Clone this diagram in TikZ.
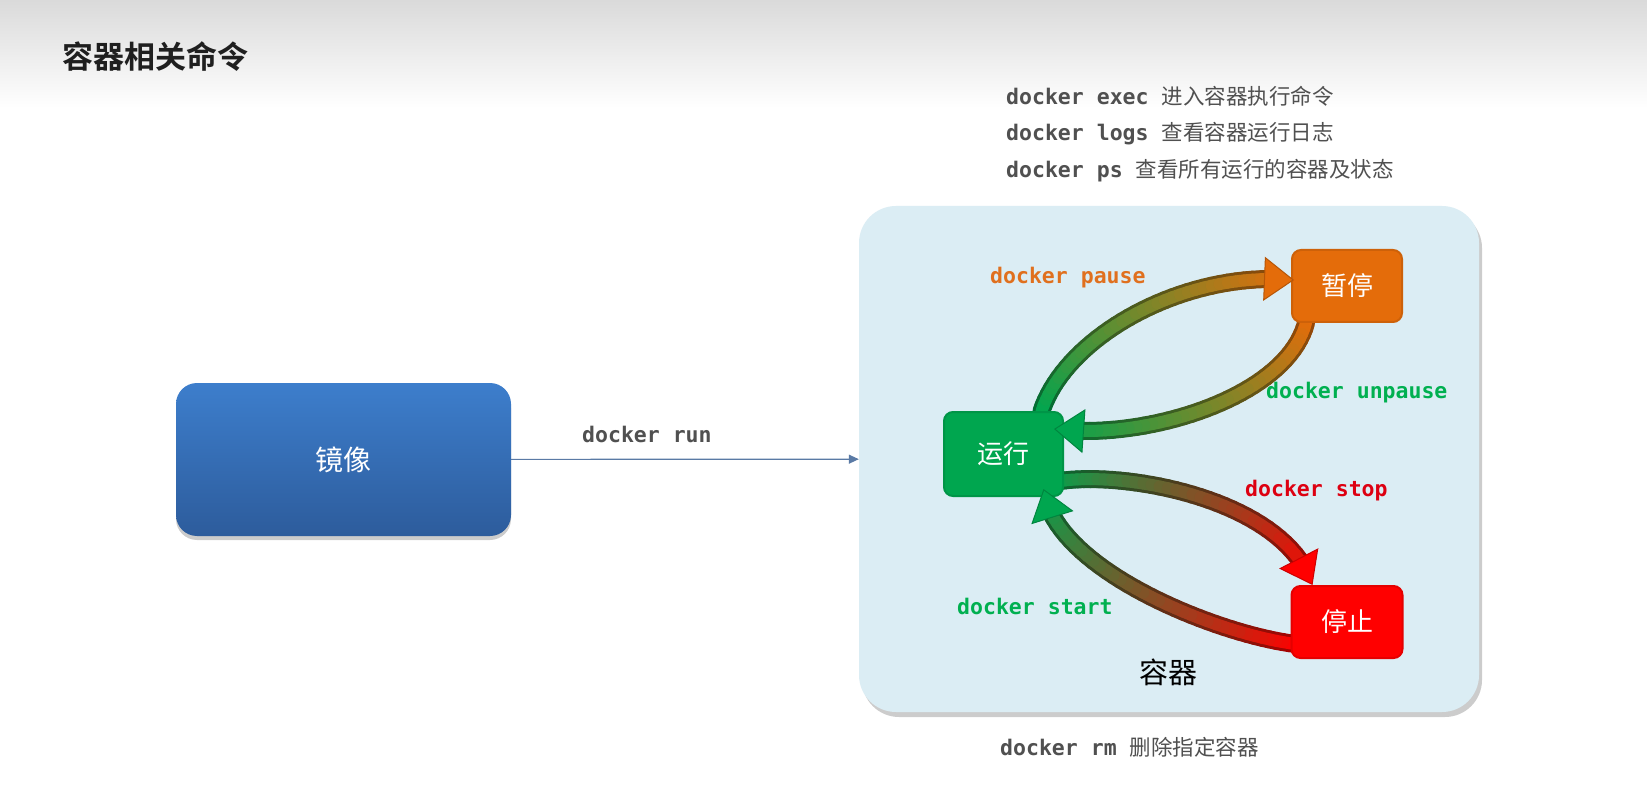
\documentclass[tikz,border=0pt]{standalone}
\usepackage{fontspec}
\setmainfont{Noto Sans CJK SC}[BoldFont={Noto Sans CJK SC Bold}]
\setmonofont{DejaVu Sans Mono}
\usetikzlibrary{arrows.meta, positioning, shadows}
\definecolor{hdrgray}{HTML}{DADADA}
\definecolor{ctrfill}{HTML}{DBEDF4}
\definecolor{imgtop}{HTML}{3D7ECC}
\definecolor{imgbot}{HTML}{2D5C9C}
\definecolor{runc}{HTML}{00A64F}
\definecolor{pausec}{HTML}{E46C0A}
\definecolor{stopc}{HTML}{FF0000}
\definecolor{cmdgray}{HTML}{505050}
\definecolor{runarrow}{HTML}{5A7AA5}
\definecolor{lblorange}{HTML}{E0701E}
\definecolor{lblgreen}{HTML}{00B050}
\definecolor{lblred}{HTML}{DD0011}
\pgfdeclarelayer{bottom}
\pgfdeclarelayer{background}
\pgfsetlayers{bottom,background,main}
\tikzset{
	ctrbox/.style={rounded corners=37pt, minimum width=620pt, minimum height=506pt,
		fill=ctrfill, drop shadow={shadow xshift=3pt, shadow yshift=-5pt, opacity=0.2, fill=black}},
	imgbox/.style={rounded corners=21pt, minimum width=335pt, minimum height=153pt,
		top color=imgtop, bottom color=imgbot, text=white, font=\fontsize{28}{32}\selectfont,
		drop shadow={shadow xshift=0pt, shadow yshift=-4pt, opacity=0.2, fill=black}},
	statebox/.style={rounded corners=9pt, inner sep=0pt, fill=#1, draw=#1!90!black,
		line width=2pt, text=white, font=\fontsize{26}{30}\selectfont},
	cmdtext/.style={anchor=west, inner sep=0pt, text=cmdgray, font=\fontsize{21.5}{24}\selectfont},
	lbltext/.style={anchor=west, inner sep=0pt, font=\ttfamily\bfseries\fontsize{21.5}{24}\selectfont},
	runarr/.style={-{Triangle[length=10pt, width=9pt]}, line width=1.2pt, draw=runarrow}
}
% #1 prefix, #2 start, #3/#4 control offsets, #5 end, #6/#7 colours, #8 last body segment
\newcommand{\tubearrow}[8]{%
	\foreach \i [evaluate=\i as \tpos using \i/40] in {0,...,40}
		\path #2 .. controls +#3 and +#4 .. #5 coordinate[pos=\tpos] (#1\i);
	\begin{pgfonlayer}{background}
		\foreach \i [evaluate=\i as \nxt using int(\i+1), evaluate=\i as \k using int(2.5*\i)] in {0,...,#8}
			\draw[line width=18pt, line cap=round, draw=#7!\k!#6!66!black] (#1\i) -- (#1\nxt);
		\foreach \i [evaluate=\i as \nxt using int(\i+1), evaluate=\i as \k using int(2.5*\i)] in {0,...,#8}
			\draw[line width=12pt, line cap=round, draw=#7!\k!#6] (#1\i) -- (#1\nxt);
	\end{pgfonlayer}
	\pgfmathtruncatemacro\tubeend{#8+1}
	\draw[line width=1pt, draw=#7!80!black, -{Triangle[length=30pt, width=44pt, fill=#7]}]
		(#1\tubeend) -- (#140);
}

\begin{document}
\begin{tikzpicture}[x=1pt, y=1pt]
	\useasboundingbox (0,0) rectangle (1647,-802);
	\begin{pgfonlayer}{bottom}
		\fill[white] (0,0) rectangle (1647,-802);
		\shade[top color=hdrgray, bottom color=white] (0,0) rectangle (1647,-108);
		\node[ctrbox] (ctr) at (1169,-459) {};
	\end{pgfonlayer}

	\node[anchor=west, inner sep=0pt, text=black!88, font=\bfseries\fontsize{31}{36}\selectfont] (title) at (62,-57) {容器相关命令};

	% commands
	\node[cmdtext] (exec) at (1006,-96) {{\ttfamily\bfseries docker exec }进入容器执行命令};
	\node[cmdtext] (logs) at (1006,-134) {{\ttfamily\bfseries docker logs }查看容器运行日志};
	\node[cmdtext] (ps) at (1006,-171) {{\ttfamily\bfseries docker ps }查看所有运行的容器及状态};
	\node[cmdtext] (rm) at (1000,-747) {{\ttfamily\bfseries docker rm }删除指定容器};

	\node[imgbox] (img) at (343.5,-459.5) {镜像};
	\draw[runarr] (img) -- (ctr);
	\node[lbltext, text=cmdgray] (lrun) at (582,-434) {docker run};

	\node[statebox=runc, minimum width=119pt, minimum height=84pt] (run) at (1003.5,-454) {运行};
	\node[statebox=pausec, minimum width=110pt, minimum height=72pt] (pause) at (1347,-286) {暂停};
	\node[statebox=stopc, minimum width=111pt, minimum height=72pt, below=262pt of pause] (stop) {停止};
	\node[font=\fontsize{29}{32}\selectfont] (ctrlabel) at (1168,-672) {容器};

	\tubearrow{pa}{([xshift=38pt]run.north)}{(25,75)}{(-110,10)}{([shift={(3,6)}]pause.west)}{runc}{pausec}{36}
	\tubearrow{up}{([xshift=15pt]pause.south west)}{(-20,-75)}{(90,-12)}{([shift={(-10,-18)}]run.north east)}{pausec}{runc}{35}
	\tubearrow{sp}{([shift={(-14,14)}]run.south east)}{(60,15)}{(-30,90)}{([xshift=22pt]stop.north west)}{runc}{stopc}{35}
	\tubearrow{st}{([shift={(5,-22)}]stop.west)}{(-80,10)}{(10,-80)}{([shift={(40,8)}]run.south)}{stopc}{runc}{35}

	\node[lbltext, text=lblorange] (lpause) at (990,-278) {docker pause};
	\node[lbltext, text=lblgreen] (lunpause) at (1266,-393) {docker unpause};
	\node[lbltext, text=lblred] (lstop) at (1245,-491) {docker stop};
	\node[lbltext, text=lblgreen] (lstart) at (957,-606) {docker start};
\end{tikzpicture}
\end{document}
